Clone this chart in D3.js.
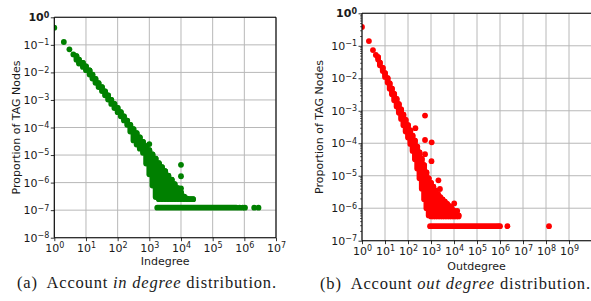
<!DOCTYPE html>
<html><head><meta charset="utf-8">
<script src="https://cdn.jsdelivr.net/npm/d3@7"></script>
<style>
body{margin:0;background:#fff}
svg text{font-family:"DejaVu Sans",sans-serif;fill:#1a1a1a}
</style>
</head><body>
<svg id="c" width="591" height="301"></svg>
<script>
// ---------- (a) In-degree ----------
const inDotK = [1, 2, 3, 4, 1000, 2050, 2900, 5150, 10000, 10000, 10000];
const inDotP = [0.42, 0.127, 0.069, 0.045, 2.5e-5, 4.7e-6, 2.6e-6, 1.26e-6, 4.4e-6, 1.7e-6, 6.2e-7];
const inBandK = [5, 6, 8, 10, 13, 16, 20, 25, 32, 40, 50, 63, 79, 100, 126, 158, 200, 251, 316, 398, 501, 631, 794, 1000, 1259, 1585, 1995, 2512, 3162, 3981, 5012, 6310, 7943, 10000, 12589, 15849, 19953, 24000];
const inBandHi = [3.9e-2, 2.9e-2, 2.2e-2, 1.65e-2, 1.18e-2, 8.3e-3, 5.8e-3, 4.1e-3, 2.9e-3, 2.05e-3, 1.45e-3, 1.0e-3, 7.2e-4, 5.1e-4, 3.6e-4, 2.55e-4, 1.76e-4, 1.24e-4, 8.8e-5, 6.2e-5, 4.4e-5, 3.0e-5, 2.1e-5, 1.5e-5, 1.05e-5, 7.4e-6, 5.1e-6, 3.6e-6, 2.6e-6, 1.8e-6, 1.28e-6, 8.8e-7, 6.3e-7, 4.4e-7, 3.1e-7, 2.6e-7, 2.5e-7, 2.5e-7];
const inBandLo = [2.9e-2, 2.1e-2, 1.58e-2, 1.2e-2, 8.4e-3, 6.0e-3, 4.2e-3, 2.95e-3, 2.1e-3, 1.47e-3, 1.04e-3, 7.2e-4, 5.1e-4, 3.6e-4, 2.55e-4, 1.8e-4, 1.25e-4, 7.1e-5, 3.4e-5, 2.4e-5, 1.7e-5, 1.2e-5, 4.9e-6, 2.0e-6, 7.8e-7, 3.0e-7, 2.5e-7, 2.5e-7, 2.5e-7, 2.5e-7, 2.5e-7, 2.5e-7, 2.5e-7, 2.5e-7, 2.5e-7, 2.5e-7, 2.5e-7, 2.5e-7];
const inFloorFrom = [1780];
const inFloorTo = [5.6e5];
const inFloorP = [1.23e-7];
const inTailK = [7.1e5, 8.9e5, 1.05e6, 2.05e6, 2.8e6];
const inTailP = [1.23e-7, 1.23e-7, 1.23e-7, 1.23e-7, 1.23e-7];
const inXTicks = [1, 1e1, 1e2, 1e3, 1e4, 1e5, 1e6, 1e7];
const inYTicks = [1, 1e-1, 1e-2, 1e-3, 1e-4, 1e-5, 1e-6, 1e-7, 1e-8];

// ---------- (b) Out-degree ----------
const outDotK = [1, 2, 3, 4, 550, 210, 550, 1070, 550, 1050, 2100, 2450, 10200, 13800];
const outDotP = [0.38, 0.14, 0.074, 0.052, 7.1e-4, 2.9e-4, 1.26e-4, 1.07e-4, 4.6e-5, 2.8e-5, 7.2e-6, 3.9e-6, 1.4e-6, 8.3e-7];
const outBandK = [5, 6, 8, 10, 13, 16, 20, 25, 32, 40, 50, 63, 79, 100, 126, 158, 200, 251, 316, 398, 501, 631, 794, 1000, 1259, 1585, 1995, 2512, 3162, 3981, 5012, 6310, 7943, 10000, 12589, 15849];
const outBandHi = [4.5e-2, 3.0e-2, 2.1e-2, 1.45e-2, 1.0e-2, 6.9e-3, 4.8e-3, 3.3e-3, 2.3e-3, 1.6e-3, 1.1e-3, 7.6e-4, 5.2e-4, 3.6e-4, 2.5e-4, 1.7e-4, 1.2e-4, 7.9e-5, 5.2e-5, 3.3e-5, 2.1e-5, 1.26e-5, 8.3e-6, 6.0e-6, 4.6e-6, 3.5e-6, 2.7e-6, 2.2e-6, 1.86e-6, 1.58e-6, 1.35e-6, 1.15e-6, 9.8e-7, 8.3e-7, 7.1e-7, 6.0e-7];
const outBandLo = [3.8e-2, 2.5e-2, 1.66e-2, 1.1e-2, 7.4e-3, 4.8e-3, 3.2e-3, 2.1e-3, 1.35e-3, 8.7e-4, 5.6e-4, 3.6e-4, 2.3e-4, 1.5e-4, 9.5e-5, 5.8e-5, 3.2e-5, 1.66e-5, 8.3e-6, 4.0e-6, 1.9e-6, 1.0e-6, 6.0e-7, 5.6e-7, 5.6e-7, 5.6e-7, 5.6e-7, 5.6e-7, 5.6e-7, 5.6e-7, 5.6e-7, 5.6e-7, 5.6e-7, 5.6e-7, 5.6e-7, 5.6e-7];
const outFloorFrom = [910];
const outFloorTo = [7.0e5];
const outFloorP = [2.8e-7];
const outTailK = [8.5e5, 1.0e6, 2.1e6, 1.35e8];
const outTailP = [2.8e-7, 2.8e-7, 2.8e-7, 2.8e-7];
const outXTicks = [1, 1e1, 1e2, 1e3, 1e4, 1e5, 1e6, 1e7, 1e8, 1e9];
const outYTicks = [1, 1e-1, 1e-2, 1e-3, 1e-4, 1e-5, 1e-6, 1e-7];

const svg = d3.select('#c');

function supTicks(sel, isY) {
  sel.selectAll('.tick text').each(function(d) {
    const e = Math.round(Math.log10(d));
    const t = d3.select(this).text(null);
    t.append('tspan').text('10');
    t.append('tspan').attr('dy', '-0.45em').attr('font-size', '8px')
      .text((e < 0 ? '\u2212' : '') + Math.abs(e));
    if (e === 0 && isY) t.attr('font-weight', 'bold');
  });
}

function panel(o) {
  const g = svg.append('g');
  const x = d3.scaleLog().domain(o.xDomain).range(o.xRange);
  const y = d3.scaleLog().domain(o.yDomain).range(o.yRange);
  const [x0, x1] = o.xRange, [y1, y0] = o.yRange;
  const cid = 'clip' + o.id;
  svg.append('clipPath').attr('id', cid).append('rect')
    .attr('x', x0).attr('y', y0).attr('width', x1 - x0).attr('height', y1 - y0);

  // grid
  const grid = g.append('g').attr('stroke', '#b8b8b8').attr('stroke-width', 1);
  grid.selectAll('line.gx').data(o.xTicks).join('line')
    .attr('x1', d => x(d)).attr('x2', d => x(d)).attr('y1', y0).attr('y2', y1);
  grid.selectAll('line.gy').data(o.yTicks).join('line')
    .attr('x1', x0).attr('x2', x1).attr('y1', d => y(d)).attr('y2', d => y(d));

  const marks = g.append('g').attr('clip-path', `url(#${cid})`);
  const r = 2.9;
  // dense columns
  marks.selectAll('line.col').data(d3.range(o.bandK.length)).join('line')
    .attr('x1', i => x(o.bandK[i])).attr('x2', i => x(o.bandK[i]))
    .attr('y1', i => y(o.bandHi[i])).attr('y2', i => y(o.bandLo[i]))
    .attr('stroke', o.color).attr('stroke-width', 2 * r).attr('stroke-linecap', 'round');
  marks.selectAll('circle.ch').data(d3.range(o.bandK.length)).join('circle')
    .attr('cx', i => x(o.bandK[i])).attr('cy', i => y(o.bandHi[i])).attr('r', r).attr('fill', o.color);
  // dense floor runs
  marks.selectAll('line.fl').data(d3.range(o.floorFrom.length)).join('line')
    .attr('x1', i => x(o.floorFrom[i])).attr('x2', i => x(o.floorTo[i]))
    .attr('y1', i => y(o.floorP[i])).attr('y2', i => y(o.floorP[i]))
    .attr('stroke', o.color).attr('stroke-width', 2 * r).attr('stroke-linecap', 'round');
  // individual dots
  const dk = o.dotK.concat(o.tailK), dp = o.dotP.concat(o.tailP);
  marks.selectAll('circle.dot').data(d3.range(dk.length)).join('circle')
    .attr('cx', i => x(dk[i])).attr('cy', i => y(dp[i])).attr('r', r).attr('fill', o.color);

  // axes
  const ax = g.append('g').attr('transform', `translate(0,${y1})`)
    .call(d3.axisBottom(x).tickValues(o.xTicks).tickSize(3.5).tickPadding(3).tickSizeOuter(0));
  const ay = g.append('g').attr('transform', `translate(${x0},0)`)
    .call(d3.axisLeft(y).tickValues(o.yTicks).tickSize(3.5).tickPadding(1.5).tickSizeOuter(0));
  [ax, ay].forEach((a, k) => {
    a.attr('font-family', null).attr('font-size', 11);
    a.select('.domain').remove();
    a.selectAll('.tick line').attr('stroke', '#000').attr('stroke-width', 0.8);
    supTicks(a, k === 1);
  });
  if (o.minorY) {
    const minor = [];
    o.yTicks.forEach(t => { for (let m = 2; m <= 9; m++) if (t * m < 1) minor.push(t * m); });
    g.append('g').attr('transform', `translate(${x0},0)`)
      .call(d3.axisLeft(y).tickValues(minor).tickSize(2).tickFormat('').tickSizeOuter(0))
      .call(a => { a.select('.domain').remove(); a.selectAll('line').attr('stroke', '#000').attr('stroke-width', 0.6); });
  }

  // spines
  const sp = g.append('g').attr('stroke', '#000').attr('stroke-width', 1.1).attr('fill', 'none');
  sp.append('line').attr('x1', x0).attr('x2', x0).attr('y1', y0).attr('y2', y1);
  sp.append('line').attr('x1', x0).attr('x2', x1).attr('y1', y1).attr('y2', y1);
  sp.append('line').attr('x1', x0).attr('x2', x1).attr('y1', y0).attr('y2', y0);
  sp.append('line').attr('x1', x1).attr('x2', x1).attr('y1', y0).attr('y2', y1);

  // labels
  g.append('text').attr('x', (x0 + Math.min(x1, 591)) / 2).attr('y', o.xLabelY)
    .attr('text-anchor', 'middle').attr('font-size', 11).text(o.xLabel);
  g.append('text').attr('transform', `translate(${o.yLabelX},${(y0 + y1) / 2}) rotate(-90)`)
    .attr('text-anchor', 'middle').attr('font-size', 11).text(o.yLabel);

  // caption
  const cap = g.append('text').attr('x', o.capX).attr('y', o.capY)
    .style('font-family', '"Liberation Serif","Times New Roman",serif').attr('font-size', 16.5)
    .attr('xml:space', 'preserve');
  cap.append('tspan').text(o.cap[0]);
  cap.append('tspan').attr('font-style', 'italic').text(o.cap[1]);
  cap.append('tspan').text(o.cap[2]);
  cap.attr('textLength', o.capW).attr('lengthAdjust', 'spacing');
}

panel({
  id: 'a', color: '#008000',
  xDomain: [1, 1e7], xRange: [54.3, 276], yDomain: [1e-8, 1], yRange: [237.7, 17.3],
  xTicks: inXTicks, yTicks: inYTicks,
  dotK: inDotK, dotP: inDotP, bandK: inBandK, bandHi: inBandHi, bandLo: inBandLo,
  floorFrom: inFloorFrom, floorTo: inFloorTo, floorP: inFloorP, tailK: inTailK, tailP: inTailP,
  xLabel: 'Indegree', xLabelY: 265, yLabel: 'Proportion of TAG Nodes', yLabelX: 19.5,
  cap: ['(a)  Account ', 'in degree', ' distribution.'], capX: 17, capY: 288, capW: 259
});

panel({
  id: 'b', color: '#ff0000', minorY: true,
  xDomain: [1, 1e10], xRange: [362, 592], yDomain: [1e-7, 1], yRange: [240.7, 13.3],
  xTicks: outXTicks, yTicks: outYTicks,
  dotK: outDotK, dotP: outDotP, bandK: outBandK, bandHi: outBandHi, bandLo: outBandLo,
  floorFrom: outFloorFrom, floorTo: outFloorTo, floorP: outFloorP, tailK: outTailK, tailP: outTailP,
  xLabel: 'Outdegree', xLabelY: 270, yLabel: 'Proportion of TAG Nodes', yLabelX: 323,
  cap: ['(b)  Account ', 'out degree', ' distribution.'], capX: 320, capY: 288.5, capW: 270
});
</script>
</body></html>
